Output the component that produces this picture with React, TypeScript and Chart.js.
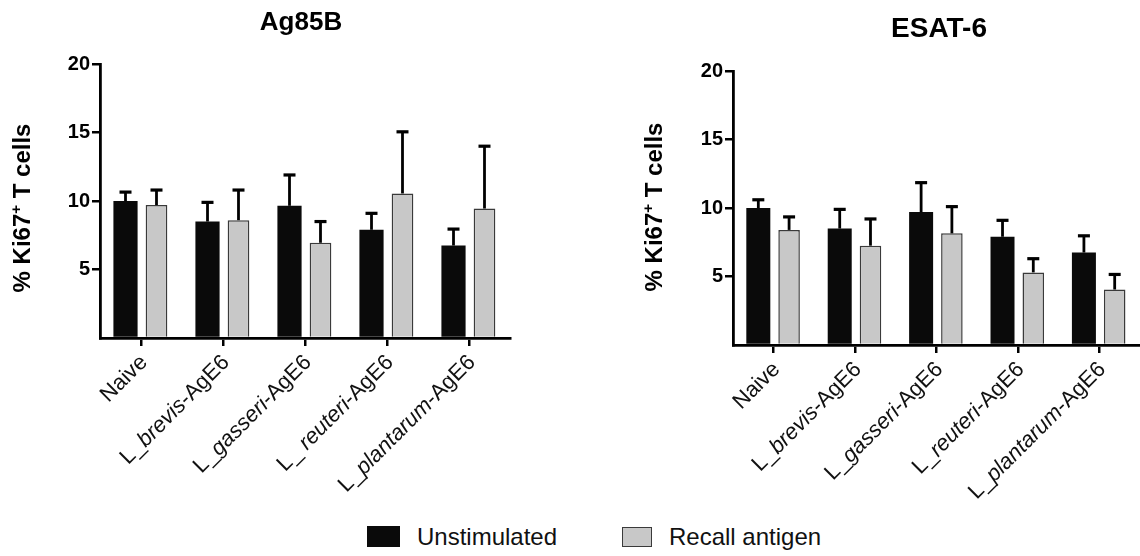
import React, { useEffect, useRef } from 'react';
import { Chart, registerables } from 'chart.js';

Chart.register(...registerables);

// ---------- data ----------
const categoriesAg85B = ['Naive', 'L_brevis-AgE6', 'L_gasseri-AgE6', 'L_ reuteri-AgE6', 'L_plantarum-AgE6'];
const categoriesESAT6 = ['Naive', 'L_brevis-AgE6', 'L_gasseri-AgE6', 'L_reuteri-AgE6', 'L_plantarum-AgE6'];
const seriesNames = ['Unstimulated', 'Recall antigen'];

const ag85bUnstim = [10.0, 8.5, 9.65, 7.9, 6.75];
const ag85bUnstimErrTop = [10.65, 9.9, 11.9, 9.1, 7.95];
const ag85bRecall = [9.7, 8.6, 6.95, 10.55, 9.45];
const ag85bRecallErrTop = [10.8, 10.8, 8.5, 15.05, 14.0];

const esat6Unstim = [10.0, 8.5, 9.7, 7.9, 6.75];
const esat6UnstimErrTop = [10.6, 9.9, 11.85, 9.1, 7.97];
const esat6Recall = [8.4, 7.25, 8.15, 5.3, 4.05];
const esat6RecallErrTop = [9.35, 9.2, 10.1, 6.3, 5.15];

const yMin = 0;
const yMax = 20;
const yStep = 5;
const yAxisTitle = ['% Ki67', '+', ' T cells'];

// ---------- styling ----------
const FONT = '"Liberation Sans", Arial, Helvetica, sans-serif';
const CANVAS_W = 570;
const CANVAS_H = 500;
const BLACK = '#0a0a0a';
const GRAY = '#c8c8c8';

const errorBarPlugin = {
  id: 'errorBars',
  afterDatasetsDraw(chart: any) {
    const { ctx } = chart;
    const yScale = chart.scales.y;
    chart.data.datasets.forEach((ds: any, di: number) => {
      const meta = chart.getDatasetMeta(di);
      const errs: number[] = ds.errorTop || [];
      meta.data.forEach((el: any, i: number) => {
        if (errs[i] == null) return;
        const top = yScale.getPixelForValue(errs[i]);
        ctx.save();
        ctx.strokeStyle = '#000';
        ctx.lineWidth = 2.8;
        ctx.beginPath();
        ctx.moveTo(el.x, el.y);
        ctx.lineTo(el.x, top);
        ctx.stroke();
        ctx.lineWidth = 3.2;
        ctx.beginPath();
        ctx.moveTo(el.x - 6, top);
        ctx.lineTo(el.x + 6, top);
        ctx.stroke();
        ctx.restore();
      });
    });
  },
};

function splitLabel(label: string) {
  const m = label.match(/^(L_\s?)([a-z]+)(-AgE6)$/);
  const normal = `22px ${FONT}`;
  const italic = `italic 22px ${FONT}`;
  if (!m) return [{ text: label, font: normal }];
  return [
    { text: m[1], font: normal },
    { text: m[2], font: italic },
    { text: m[3], font: normal },
  ];
}

const panelPlugin = {
  id: 'panel',
  afterDraw(chart: any, _args: any, opts: any) {
    const { ctx } = chart;
    ctx.save();
    ctx.fillStyle = '#000';
    // title
    ctx.font = `bold ${opts.titleSize}px ${FONT}`;
    ctx.textAlign = 'center';
    ctx.textBaseline = 'alphabetic';
    ctx.fillText(opts.title, opts.titleX, opts.titleY);

    // y-axis title with superscript
    ctx.save();
    ctx.translate(opts.yTitleX, opts.yTitleY);
    ctx.rotate(-Math.PI / 2);
    const big = `bold 24px ${FONT}`;
    const small = `bold 15px ${FONT}`;
    const parts = [
      { t: yAxisTitle[0], f: big, dy: 0 },
      { t: yAxisTitle[1], f: small, dy: -9 },
      { t: yAxisTitle[2], f: big, dy: 0 },
    ];
    let total = 0;
    parts.forEach((p) => {
      ctx.font = p.f;
      total += ctx.measureText(p.t).width;
    });
    let x = -total / 2;
    ctx.textAlign = 'left';
    parts.forEach((p) => {
      ctx.font = p.f;
      ctx.fillText(p.t, x, p.dy);
      x += ctx.measureText(p.t).width;
    });
    ctx.restore();

    // x tick labels, rotated 45 degrees
    const xs = chart.scales.x;
    (chart.data.labels as string[]).forEach((lab, i) => {
      const px = xs.getPixelForTick(i);
      const segs = splitLabel(lab);
      ctx.save();
      ctx.translate(px + 3, xs.top + 21);
      ctx.rotate(-Math.PI / 4);
      let w = 0;
      segs.forEach((s) => {
        ctx.font = s.font;
        w += ctx.measureText(s.text).width;
      });
      let sx = -w;
      ctx.textAlign = 'left';
      ctx.textBaseline = 'middle';
      ctx.fillStyle = '#111';
      segs.forEach((s) => {
        ctx.font = s.font;
        ctx.fillText(s.text, sx, 0);
        sx += ctx.measureText(s.text).width;
      });
      ctx.restore();
    });
    ctx.restore();
  },
};

interface PanelParams {
  labels: string[];
  unstim: number[];
  unstimErr: number[];
  recall: number[];
  recallErr: number[];
  areaLeft: number;
  areaRight: number;
  areaTop: number;
  areaBottom: number;
  title: string;
  titleSize: number;
  titleX: number;
  titleY: number;
  yTitleX: number;
  yTitleY: number;
}

function makeConfig(p: PanelParams): any {
  return {
    type: 'bar',
    data: {
      labels: p.labels,
      datasets: [
        {
          label: seriesNames[0],
          data: p.unstim,
          errorTop: p.unstimErr,
          backgroundColor: BLACK,
          borderWidth: 0,
          barPercentage: 0.78,
          categoryPercentage: 0.756,
        },
        {
          label: seriesNames[1],
          data: p.recall,
          errorTop: p.recallErr,
          backgroundColor: GRAY,
          borderColor: '#3a3a3a',
          borderWidth: 1.5,
          barPercentage: 0.7,
          categoryPercentage: 0.756,
        },
      ],
    },
    options: {
      animation: false,
      responsive: false,
      devicePixelRatio: 1,
      layout: {
        padding: { left: 0, right: CANVAS_W - p.areaRight, top: p.areaTop, bottom: 0 },
      },
      plugins: {
        legend: { display: false },
        tooltip: { enabled: false },
        title: { display: false },
        panel: {
          title: p.title,
          titleSize: p.titleSize,
          titleX: p.titleX,
          titleY: p.titleY,
          yTitleX: p.yTitleX,
          yTitleY: p.yTitleY,
        },
      },
      scales: {
        x: {
          offset: true,
          grid: {
            display: true,
            offset: false,
            drawOnChartArea: false,
            drawTicks: true,
            tickLength: 8,
            color: '#000',
            lineWidth: 2.5,
          },
          border: { display: true, color: '#000', width: 2.8 },
          ticks: { display: false },
          afterFit: (scale: any) => {
            scale.height = CANVAS_H - p.areaBottom;
          },
        },
        y: {
          min: yMin,
          max: yMax,
          grid: {
            display: true,
            drawOnChartArea: false,
            drawTicks: true,
            tickLength: 8,
            color: (c: any) => (c.tick && c.tick.value === 0 ? 'rgba(0,0,0,0)' : '#000'),
            lineWidth: 2.5,
          },
          border: { display: true, color: '#000', width: 2.8 },
          ticks: {
            stepSize: yStep,
            padding: 2,
            color: '#000',
            font: { family: FONT, size: 20, weight: 'bold' },
            callback: (v: any) => (v === 0 ? '' : String(v)),
          },
          afterFit: (scale: any) => {
            scale.width = p.areaLeft;
          },
        },
      },
    },
    plugins: [errorBarPlugin, panelPlugin],
  };
}

function Panel({ params, left }: { params: PanelParams; left: number }) {
  const ref = useRef<HTMLCanvasElement | null>(null);
  useEffect(() => {
    if (!ref.current) return;
    const chart = new Chart(ref.current, makeConfig(params));
    return () => chart.destroy();
  }, []);
  return (
    <canvas
      ref={ref}
      width={CANVAS_W}
      height={CANVAS_H}
      style={{ position: 'absolute', left, top: 0, width: CANVAS_W, height: CANVAS_H }}
    />
  );
}

const leftParams: PanelParams = {
  labels: categoriesAg85B,
  unstim: ag85bUnstim,
  unstimErr: ag85bUnstimErrTop,
  recall: ag85bRecall,
  recallErr: ag85bRecallErrTop,
  areaLeft: 100,
  areaRight: 510,
  areaTop: 64,
  areaBottom: 338,
  title: 'Ag85B',
  titleSize: 26,
  titleX: 301,
  titleY: 30,
  yTitleX: 30,
  yTitleY: 208,
};

const rightParams: PanelParams = {
  labels: categoriesESAT6,
  unstim: esat6Unstim,
  unstimErr: esat6UnstimErrTop,
  recall: esat6Recall,
  recallErr: esat6RecallErrTop,
  areaLeft: 163,
  areaRight: 570,
  areaTop: 71,
  areaBottom: 345,
  title: 'ESAT-6',
  titleSize: 28,
  titleX: 369,
  titleY: 37,
  yTitleX: 92,
  yTitleY: 207,
};

export default function App() {
  const legendText: React.CSSProperties = {
    position: 'absolute',
    top: 525,
    fontFamily: FONT,
    fontSize: 24,
    lineHeight: '24px',
    color: '#111',
    whiteSpace: 'nowrap',
  };
  return (
    <div
      style={{
        position: 'absolute',
        left: 0,
        top: 0,
        width: 1140,
        height: 556,
        background: '#fff',
        overflow: 'hidden',
      }}
    >
      <Panel params={leftParams} left={0} />
      <Panel params={rightParams} left={570} />
      <div
        style={{ position: 'absolute', left: 367, top: 526, width: 33, height: 21, background: BLACK }}
      />
      <div style={{ ...legendText, left: 417 }}>{seriesNames[0]}</div>
      <div
        style={{
          position: 'absolute',
          left: 622,
          top: 527,
          width: 30,
          height: 20,
          boxSizing: 'border-box',
          background: GRAY,
          border: '1.5px solid #3a3a3a',
        }}
      />
      <div style={{ ...legendText, left: 669 }}>{seriesNames[1]}</div>
    </div>
  );
}
